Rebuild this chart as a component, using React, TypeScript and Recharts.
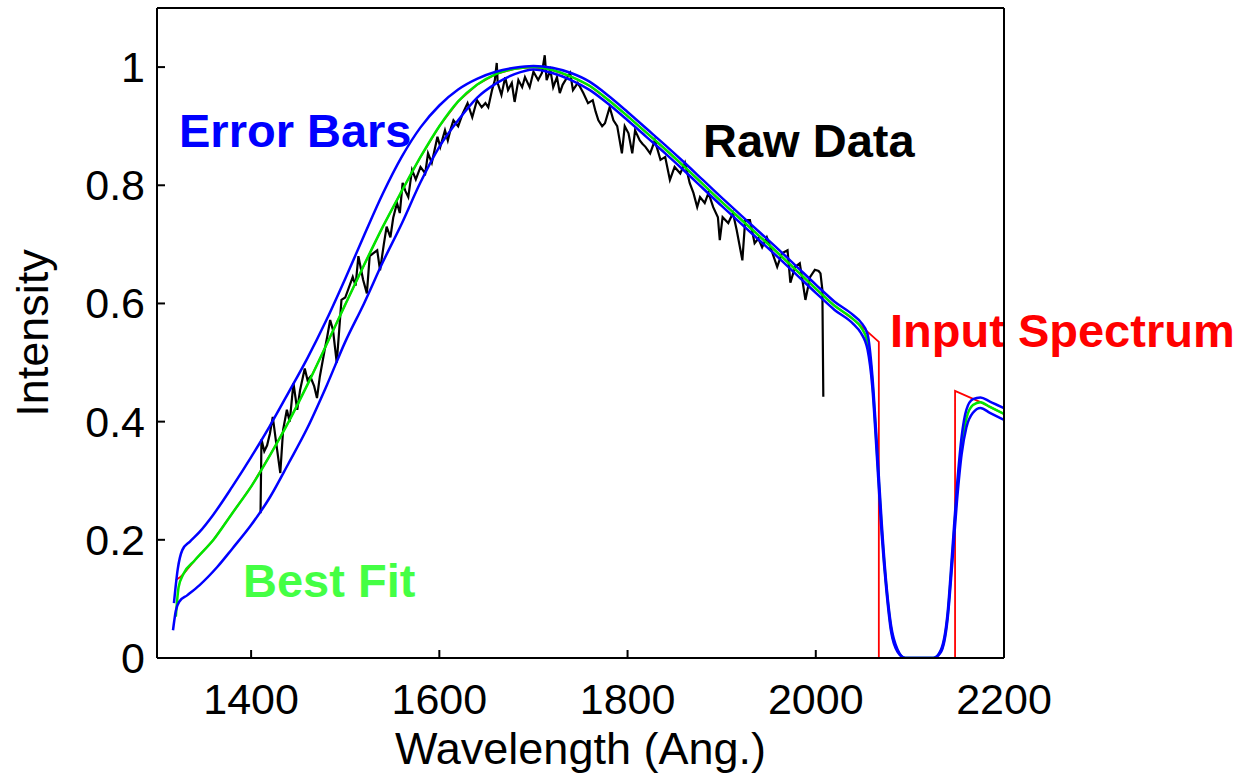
import { LineChart, Line, XAxis, YAxis, Customized } from 'recharts'

// wavelength (Ang.), intensity pairs
const rawData: [number, number][] = [
  [1410, 0.245], [1411, 0.37], [1414, 0.35], [1417, 0.36], [1420, 0.38], [1423, 0.408],
  [1427, 0.36], [1431, 0.313], [1434, 0.386], [1438, 0.42], [1441, 0.4], [1445, 0.465],
  [1449, 0.42], [1452, 0.453], [1457, 0.49], [1460, 0.47], [1463, 0.476], [1467, 0.46],
  [1470, 0.44], [1473, 0.476], [1478, 0.52], [1481, 0.545], [1484, 0.572], [1487, 0.555],
  [1491, 0.5], [1496, 0.606], [1500, 0.61], [1503, 0.623], [1508, 0.645], [1511, 0.63],
  [1514, 0.68], [1519, 0.64], [1523, 0.617], [1526, 0.68], [1530, 0.685], [1534, 0.69],
  [1537, 0.656], [1541, 0.7], [1544, 0.73], [1548, 0.712], [1551, 0.745], [1555, 0.77],
  [1558, 0.753], [1561, 0.804], [1564, 0.79], [1567, 0.78], [1571, 0.826], [1575, 0.81],
  [1580, 0.831], [1585, 0.82], [1588, 0.854], [1592, 0.838], [1595, 0.86], [1598, 0.882],
  [1601, 0.865], [1606, 0.893], [1609, 0.876], [1612, 0.895], [1615, 0.91], [1620, 0.9],
  [1625, 0.922], [1630, 0.939], [1635, 0.915], [1640, 0.944], [1645, 0.932], [1649, 0.939],
  [1652, 0.932], [1656, 0.961], [1659, 0.978], [1661, 1.007], [1662, 0.973], [1666, 0.953],
  [1670, 0.983], [1673, 0.961], [1677, 0.973], [1680, 0.941], [1684, 0.978], [1688, 0.966],
  [1691, 0.983], [1696, 0.966], [1700, 0.992], [1705, 0.978], [1709, 0.99], [1712, 1.02],
  [1714, 0.978], [1718, 0.995], [1721, 0.966], [1725, 0.983], [1728, 0.956], [1731, 0.97],
  [1734, 0.978], [1739, 0.99], [1742, 0.961], [1747, 0.973], [1750, 0.965], [1753, 0.956],
  [1758, 0.939], [1763, 0.944], [1766, 0.925], [1769, 0.91], [1773, 0.9], [1776, 0.905],
  [1781, 0.932], [1785, 0.91], [1789, 0.9], [1794, 0.854], [1797, 0.9], [1801, 0.888],
  [1805, 0.854], [1808, 0.893], [1813, 0.876], [1816, 0.87], [1819, 0.865], [1824, 0.854],
  [1829, 0.876], [1835, 0.843], [1840, 0.848], [1845, 0.809], [1850, 0.831], [1856, 0.82],
  [1861, 0.838], [1866, 0.804], [1870, 0.787], [1874, 0.763], [1877, 0.78], [1882, 0.77],
  [1886, 0.787], [1891, 0.763], [1896, 0.746], [1898, 0.707], [1901, 0.746], [1907, 0.736],
  [1912, 0.753], [1916, 0.724], [1922, 0.673], [1925, 0.741], [1930, 0.741], [1935, 0.702],
  [1939, 0.71], [1943, 0.695], [1948, 0.712], [1954, 0.685], [1959, 0.662], [1964, 0.685],
  [1970, 0.69], [1973, 0.635], [1978, 0.662], [1983, 0.668], [1989, 0.606], [1994, 0.645],
  [1999, 0.657], [2003, 0.655], [2005, 0.651], [2007, 0.623], [2008, 0.442],
]

const bestFit: [number, number][] = [
  [1320, 0.07], [1323, 0.12], [1328, 0.142], [1340, 0.165], [1360, 0.2], [1380, 0.245],
  [1400, 0.29], [1420, 0.343], [1440, 0.4], [1460, 0.463], [1480, 0.53], [1500, 0.598],
  [1520, 0.665], [1540, 0.73], [1560, 0.79], [1580, 0.848], [1600, 0.9], [1620, 0.942],
  [1640, 0.97], [1660, 0.988], [1680, 0.997], [1700, 1.0], [1720, 0.995], [1740, 0.984],
  [1760, 0.968], [1780, 0.944], [1800, 0.917], [1820, 0.889], [1840, 0.861], [1860, 0.832],
  [1880, 0.802], [1900, 0.772], [1920, 0.743], [1940, 0.714], [1960, 0.685], [1980, 0.655],
  [2000, 0.625], [2020, 0.596], [2040, 0.573], [2048, 0.56], [2055, 0.535], [2060, 0.47],
  [2065, 0.35], [2070, 0.22], [2075, 0.12], [2080, 0.05], [2087, 0.012], [2095, 0],
  [2125, 0], [2133, 0.012], [2140, 0.07], [2145, 0.17], [2150, 0.28], [2155, 0.36],
  [2160, 0.405], [2167, 0.428], [2175, 0.433], [2185, 0.425], [2200, 0.413],
]

const errorUpper: [number, number][] = [
  [1318, 0.093], [1322, 0.15], [1327, 0.183], [1335, 0.197], [1345, 0.213], [1360, 0.243],
  [1380, 0.29], [1400, 0.34], [1420, 0.393], [1440, 0.45], [1460, 0.508], [1480, 0.572],
  [1500, 0.642], [1520, 0.715], [1540, 0.786], [1560, 0.848], [1580, 0.898], [1600, 0.935],
  [1620, 0.962], [1640, 0.98], [1660, 0.992], [1680, 0.999], [1700, 1.002], [1720, 0.999],
  [1740, 0.99], [1760, 0.975], [1780, 0.951], [1800, 0.924], [1820, 0.896], [1840, 0.868],
  [1860, 0.839], [1880, 0.809], [1900, 0.779], [1920, 0.75], [1940, 0.721], [1960, 0.692],
  [1980, 0.662], [2000, 0.632], [2020, 0.603], [2040, 0.58], [2048, 0.568], [2055, 0.548],
  [2060, 0.48], [2065, 0.36], [2070, 0.23], [2075, 0.125], [2080, 0.055], [2087, 0.014],
  [2095, 0], [2125, 0], [2133, 0.014], [2140, 0.075], [2145, 0.18], [2150, 0.29],
  [2155, 0.375], [2160, 0.42], [2167, 0.438], [2175, 0.441], [2185, 0.434], [2200, 0.423],
]

const errorLower: [number, number][] = [
  [1317, 0.047], [1320, 0.08], [1324, 0.096], [1332, 0.106], [1345, 0.123], [1364, 0.154],
  [1380, 0.185], [1400, 0.225], [1420, 0.272], [1440, 0.33], [1460, 0.39], [1480, 0.46],
  [1500, 0.535], [1520, 0.6], [1540, 0.67], [1560, 0.735], [1580, 0.805], [1600, 0.865],
  [1620, 0.91], [1640, 0.948], [1660, 0.972], [1680, 0.988], [1700, 0.996], [1720, 0.99],
  [1740, 0.978], [1760, 0.961], [1780, 0.937], [1800, 0.91], [1820, 0.882], [1840, 0.854],
  [1860, 0.825], [1880, 0.795], [1900, 0.765], [1920, 0.736], [1940, 0.707], [1960, 0.678],
  [1980, 0.648], [2000, 0.618], [2020, 0.589], [2040, 0.565], [2048, 0.55], [2055, 0.522],
  [2060, 0.46], [2065, 0.34], [2070, 0.21], [2075, 0.115], [2080, 0.045], [2087, 0.01],
  [2095, 0], [2125, 0], [2133, 0.01], [2140, 0.065], [2145, 0.16], [2150, 0.265],
  [2155, 0.345], [2160, 0.39], [2167, 0.415], [2175, 0.423], [2185, 0.415], [2200, 0.403],
]

// the model that was fed in: mostly hidden under the best fit
const inputSpectrum: [number, number][] = [
  [1320, 0.132], [1324, 0.136], [1328, 0.142], [1340, 0.165], [1360, 0.2], [1380, 0.245],
  [1400, 0.29], [1420, 0.343], [1440, 0.4], [1460, 0.463], [1480, 0.53], [1500, 0.598],
  [1520, 0.665], [1540, 0.73], [1560, 0.79], [1580, 0.848], [1600, 0.9], [1620, 0.942],
  [1640, 0.97], [1660, 0.988], [1680, 0.997], [1700, 1.0], [1720, 0.995], [1740, 0.984],
  [1760, 0.968], [1780, 0.944], [1800, 0.917], [1820, 0.889], [1840, 0.861], [1860, 0.832],
  [1880, 0.802], [1900, 0.772], [1920, 0.743], [1940, 0.714], [1960, 0.685], [1980, 0.655],
  [2000, 0.625], [2020, 0.596], [2040, 0.573], [2048, 0.562], [2067, 0.535], [2067, 0],
  [2148, 0], [2148, 0.452], [2175, 0.433], [2185, 0.425], [2200, 0.413],
]

const xTicks = [1400, 1600, 1800, 2000, 2200]
const yTicks = [0, 0.2, 0.4, 0.6, 0.8, 1]

const toPoints = (arr: [number, number][]) => arr.map(([x, y]) => ({ x, y }))

const FONT = '"Liberation Sans", Arial, Helvetica, sans-serif'

const XTick = ({ x, y, payload }: any) => (
  <g>
    <line x1={x} y1={y} x2={x} y2={y - 8} stroke="#000" strokeWidth={2} />
    <text x={x} y={y + 56} textAnchor="middle" fontSize={43} fontFamily={FONT} fill="#000">
      {payload.value}
    </text>
  </g>
)

const YTick = ({ x, y, payload }: any) => (
  <g>
    <line x1={x} y1={y} x2={x + 8} y2={y} stroke="#000" strokeWidth={2} />
    <text x={x - 12} y={y + 15} textAnchor="end" fontSize={43} fontFamily={FONT} fill="#000">
      {String(payload.value)}
    </text>
  </g>
)

const Annotations = () => (
  <g fontFamily={FONT} fontWeight="bold" fontSize={47}>
    <text x={179} y={147} fill="#0000ff">Error Bars</text>
    <text x={703} y={157} fill="#000000">Raw Data</text>
    <text x={890} y={347} fill="#ff0000">Input Spectrum</text>
    <text x={243} y={597} fill="#44ff44">Best Fit</text>
  </g>
)

export default function App() {
  const axisLine = { stroke: '#000', strokeWidth: 2 }
  const innerTick = { stroke: '#000', strokeWidth: 2 }
  return (
    <div style={{ width: 1245, height: 778, background: '#fff' }}>
      <style>{'body{margin:0;overflow:hidden;background:#fff}'}</style>
      <LineChart width={1245} height={778} margin={{ top: 8, right: 241, bottom: 0, left: 0 }}>
        <XAxis
          xAxisId="bottom"
          type="number"
          dataKey="x"
          domain={[1300, 2200]}
          allowDataOverflow
          ticks={xTicks}
          interval={0}
          height={120}
          tickSize={0}
          tickMargin={0}
          tickLine={false}
          axisLine={axisLine}
          tick={<XTick />}
          label={{
            value: 'Wavelength (Ang.)',
            position: 'insideBottom',
            offset: 14,
            fontSize: 45,
            fill: '#000',
            fontFamily: FONT,
          }}
        />
        <XAxis
          xAxisId="top"
          orientation="top"
          type="number"
          dataKey="x"
          domain={[1300, 2200]}
          allowDataOverflow
          ticks={xTicks}
          interval={0}
          height={1}
          mirror
          tick={false}
          tickSize={8}
          tickLine={innerTick}
          axisLine={axisLine}
        />
        <YAxis
          yAxisId="left"
          type="number"
          domain={[0, 1.1]}
          allowDataOverflow
          ticks={yTicks}
          interval={0}
          width={157}
          tickSize={0}
          tickMargin={0}
          tickLine={false}
          axisLine={axisLine}
          tick={<YTick />}
          label={({ viewBox }: any) => {
            const cy = viewBox.y + viewBox.height / 2
            return (
              <text
                x={48}
                y={cy}
                transform={`rotate(-90 48 ${cy})`}
                textAnchor="middle"
                fontSize={45}
                fontFamily={FONT}
                fill="#000"
              >
                Intensity
              </text>
            )
          }}
        />
        <YAxis
          yAxisId="right"
          orientation="right"
          type="number"
          domain={[0, 1.1]}
          allowDataOverflow
          ticks={yTicks}
          interval={0}
          width={1}
          mirror
          tick={false}
          tickSize={8}
          tickLine={innerTick}
          axisLine={axisLine}
        />
        <Line
          xAxisId="bottom"
          yAxisId="left"
          data={toPoints(inputSpectrum)}
          dataKey="y"
          type="linear"
          stroke="#ff0000"
          strokeWidth={1.8}
          dot={false}
          activeDot={false}
          isAnimationActive={false}
        />
        <Line
          xAxisId="bottom"
          yAxisId="left"
          data={toPoints(rawData)}
          dataKey="y"
          type="linear"
          stroke="#000000"
          strokeWidth={2.2}
          dot={false}
          activeDot={false}
          isAnimationActive={false}
        />
        <Line
          xAxisId="bottom"
          yAxisId="left"
          data={toPoints(bestFit)}
          dataKey="y"
          type="monotone"
          stroke="#00e600"
          strokeWidth={2.5}
          dot={false}
          activeDot={false}
          isAnimationActive={false}
        />
        <Line
          xAxisId="bottom"
          yAxisId="left"
          data={toPoints(errorUpper)}
          dataKey="y"
          type="monotone"
          stroke="#0000ff"
          strokeWidth={2.5}
          dot={false}
          activeDot={false}
          isAnimationActive={false}
        />
        <Line
          xAxisId="bottom"
          yAxisId="left"
          data={toPoints(errorLower)}
          dataKey="y"
          type="monotone"
          stroke="#0000ff"
          strokeWidth={2.5}
          dot={false}
          activeDot={false}
          isAnimationActive={false}
        />
        <Customized component={Annotations} />
      </LineChart>
    </div>
  )
}
